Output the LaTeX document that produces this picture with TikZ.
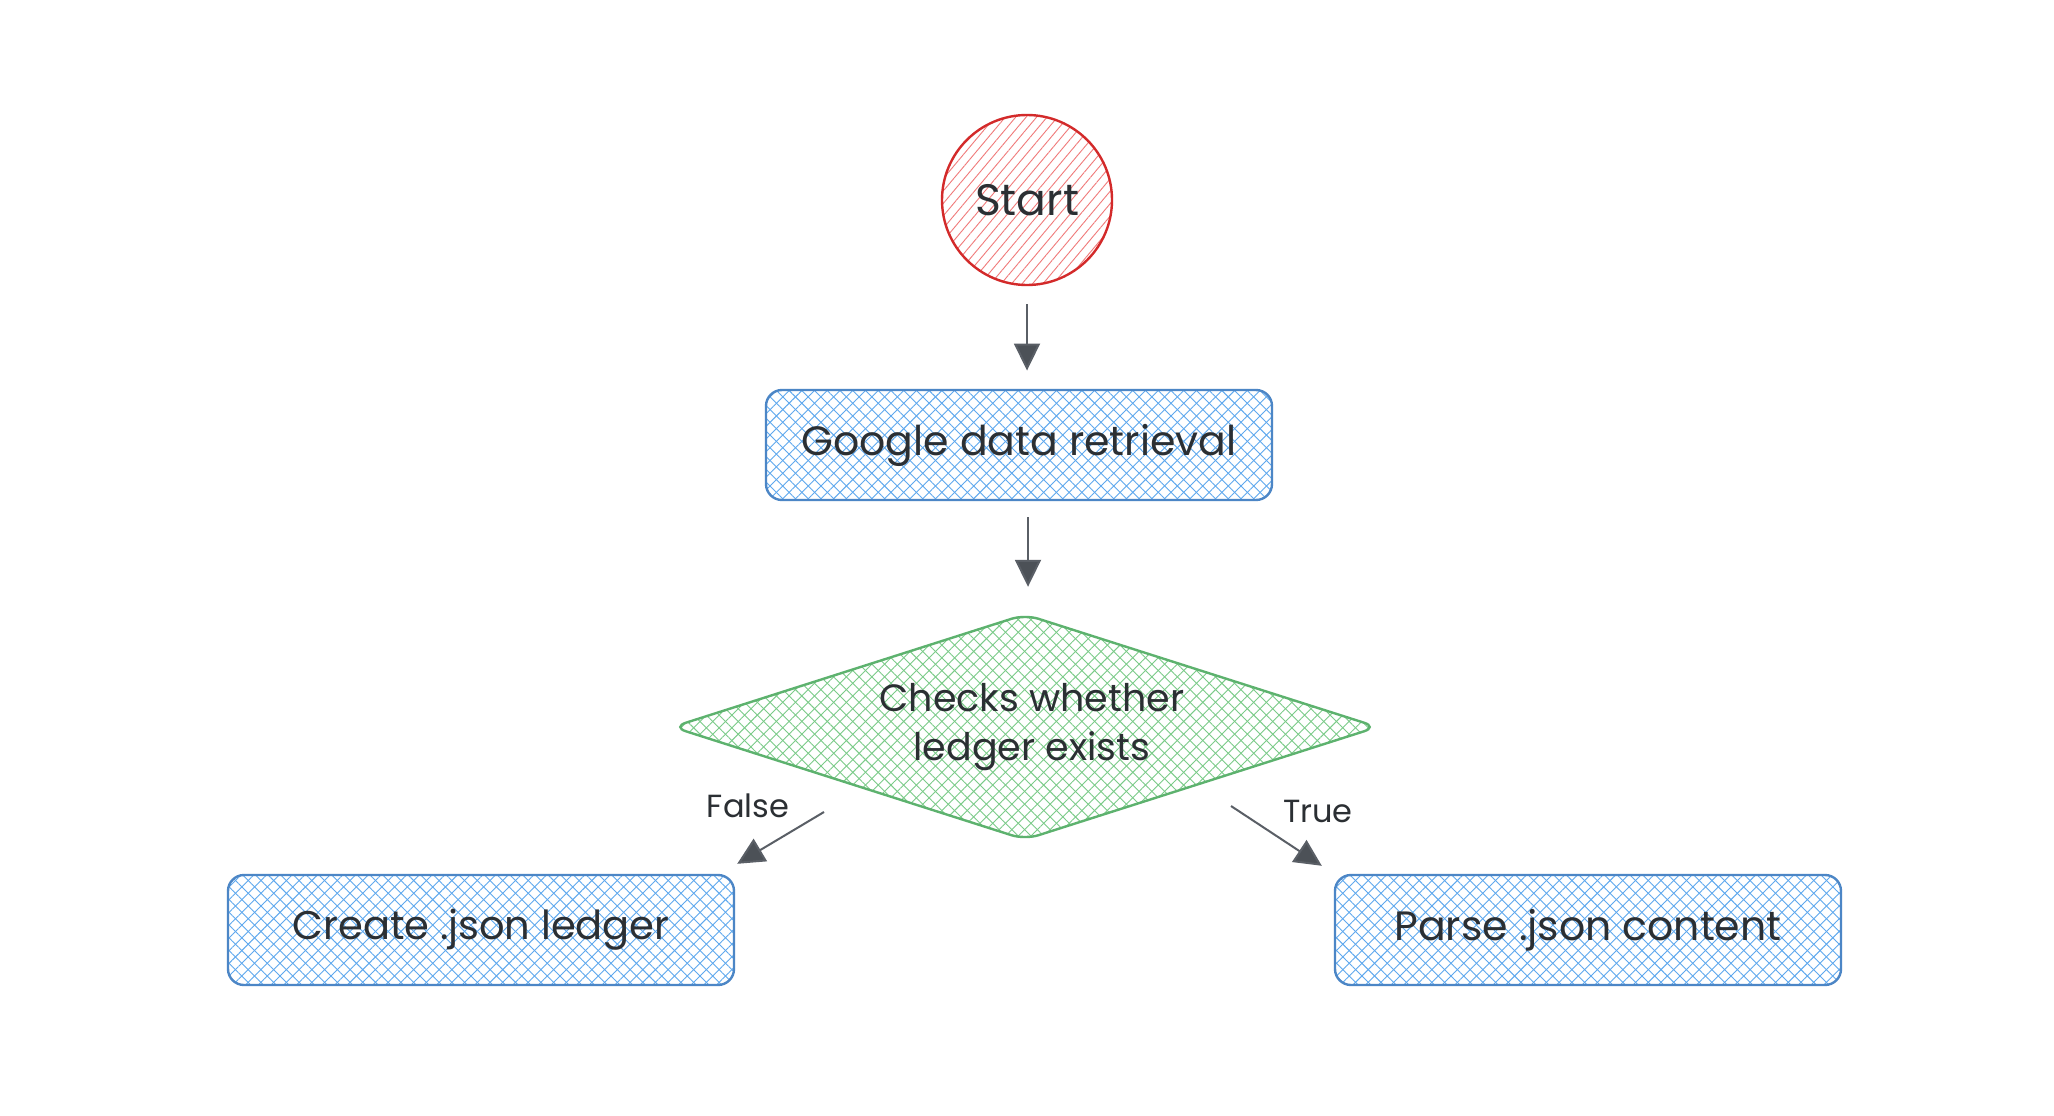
\documentclass[tikz,border=0pt]{standalone}
\usepackage{fontspec}
\setmainfont{Poppins}
\usetikzlibrary{shapes.geometric,arrows.meta,patterns.meta}
\definecolor{ink}{HTML}{2B2F33}
\definecolor{boxline}{HTML}{4C86C6}
\definecolor{boxhatch}{HTML}{5EA8EE}
\definecolor{grline}{HTML}{5DB26E}
\definecolor{grhatch}{HTML}{7ACB88}
\definecolor{redline}{HTML}{D32A2A}
\definecolor{redhatch}{HTML}{F07A7A}
\definecolor{arrowc}{HTML}{5A5F66}
\begin{document}
\begin{tikzpicture}[x=1pt,y=-1pt,
  txt/.style={text=ink,font=\fontsize{41}{46}\selectfont},
  xhatch/.style={preaction={pattern={Lines[angle=45,distance=9pt,line width=0.9pt]},pattern color=#1},
                 pattern={Lines[angle=-45,distance=9pt,line width=0.9pt]},pattern color=#1},
  stepbox/.style={draw=boxline,line width=2.4pt,rounded corners=16pt,minimum width=506pt,minimum height=110pt,
                  xhatch=boxhatch,txt,inner sep=0pt},
  startc/.style={circle,draw=redline,line width=2.4pt,minimum size=170pt,inner sep=0pt,
                 pattern={Lines[angle=50,distance=8pt,line width=0.9pt]},pattern color=redhatch,
                 text=ink,font=\fontsize{44}{48}\selectfont},
  decide/.style={diamond,draw=grline,line width=2.4pt,minimum width=706pt,minimum height=226pt,
                 rounded corners=14pt,xhatch=grhatch,inner sep=0pt},
  arr/.style={draw=arrowc,line width=2pt,-{Triangle[length=27pt,width=26pt,fill=arrowc!85!black]}},
  lbl/.style={text=ink,font=\fontsize{32}{36}\selectfont}
]
\fill[white] (0,0) rectangle (2054,1116);

\node[startc] (start) at (1027,200) {Start};
\node[stepbox] (google) at (1019,445) {Google data retrieval};
\node[decide] (check) at (1025,727) {};
\node[txt,align=center,font=\fontsize{38}{49}\selectfont] (checktxt) at (1032,727) {Checks whether\\ledger exists};
\node[stepbox,font=\fontsize{40}{46}\selectfont] (create) at (481,930) {Create .json ledger};
\node[stepbox] (parse) at (1588,930) {Parse .json content};

\node[lbl] (flbl) at (748,806) {False};
\node[lbl] (tlbl) at (1318,811) {True};

\draw[arr,shorten <=19pt,shorten >=19pt] (start.south) -- (start.south |- google.north);
\draw[arr,shorten <=17pt,shorten >=26pt] ([xshift=3pt]check.north |- google.south) -- ([xshift=3pt]check.north);
\draw[arr] ([xshift=-201pt,yshift=-85pt]check.center) -- ([xshift=2pt,yshift=10pt]create.north east);
\draw[arr] ([xshift=206pt,yshift=-79pt]check.center) -- ([xshift=-12pt,yshift=8pt]parse.north west);
\end{tikzpicture}
\end{document}
